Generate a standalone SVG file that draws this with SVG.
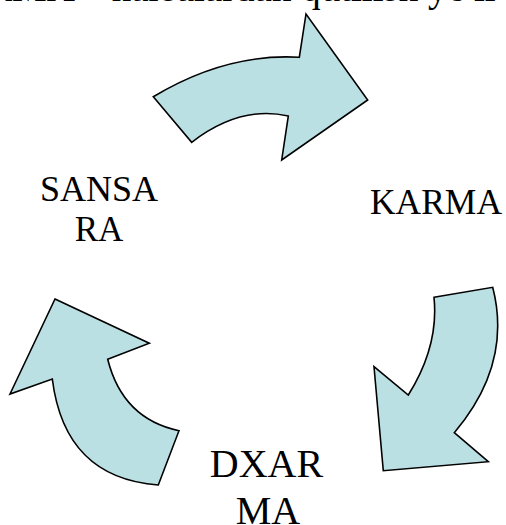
<svg xmlns="http://www.w3.org/2000/svg" width="506" height="525" viewBox="0 0 506 525">
<style>
.arrow{fill:#BBE0E3;stroke:#000;stroke-width:1.6;stroke-linejoin:miter}
.lbl{font-family:"Liberation Serif","Times New Roman",serif;fill:#000}
</style>
<rect width="506" height="525" fill="#fff"/>
<text class="lbl" x="-14" y="1" font-size="39">RMA – narsalardan qutilish yo'li</text>
<g id="connectors">
<path id="arrow-top" class="arrow" d="M153.3,96.7 Q226,53 299.3,57.3 L306,14 L367.7,100 L281.7,160 L288.3,116 Q240,105 191.7,142.3 Z"/>
<path id="arrow-right" class="arrow" d="M434,297.3 L492.7,287.3 Q512.5,364 454.3,432.7 L488.3,461.7 L383.3,470.7 L374,366.7 L408.3,395 Q439,346 434,297.3 Z"/>
<path id="arrow-left" class="arrow" d="M55,299 L149.3,343.3 L107.7,359.3 Q122.7,419 179,430.7 L158.3,485 Q64.7,478 52.3,379 L10,394 Z"/>
</g>
<g id="node-sansara">
<text class="lbl" x="99" y="201" font-size="35" text-anchor="middle" textLength="118" lengthAdjust="spacingAndGlyphs">SANSA</text>
<text class="lbl" x="99" y="241" font-size="35" text-anchor="middle">RA</text>
</g>
<g id="node-karma">
<text class="lbl" x="436" y="214" font-size="35" text-anchor="middle" textLength="132" lengthAdjust="spacingAndGlyphs">KARMA</text>
</g>
<g id="node-dxarma">
<text class="lbl" x="266.5" y="477" font-size="40" text-anchor="middle">DXAR</text>
<text class="lbl" x="268" y="524" font-size="40" text-anchor="middle">MA</text>
</g>
</svg>
